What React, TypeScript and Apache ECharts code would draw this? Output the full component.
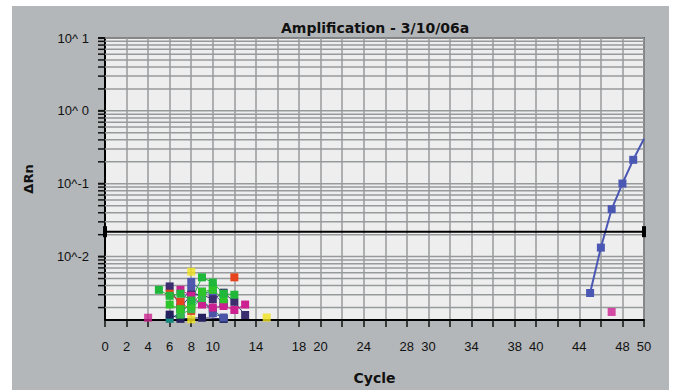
import React, { useEffect, useRef } from "react";
import * as echarts from "echarts";

// ---- data ----
const xShownLabels = [0, 2, 4, 6, 8, 10, 14, 18, 20, 24, 28, 30, 34, 38, 40, 44, 48, 50];
const yMin = 0.00135;
const yMax = 10;
const decadeValues = [0.01, 0.1, 1, 10];
const decadeLabels = ["10^-2", "10^-1", "10^ 0", "10^ 1"];
const minorMultipliers = [2, 3, 4, 5, 6, 7, 8, 9];
const minorDecades = [0.001, 0.01, 0.1, 1];
const thresholdValue = [0.022];

const mainBlue = [[45, 0.00317], [46, 0.0133], [47, 0.0448], [48, 0.1007], [49, 0.213], [50, 0.414]];
const green1 = [[5, 0.0035], [6, 0.0029], [7, 0.0031], [8, 0.0025], [9, 0.0052], [10, 0.0044], [11, 0.0031], [12, 0.0030]];
const green2 = [[6, 0.0022], [7, 0.0019], [8, 0.0021], [9, 0.0033], [10, 0.0035], [11, 0.0026]];
const green3 = [[7, 0.0016], [8, 0.0019], [9, 0.0027], [10, 0.0039]];
const red1 = [[6, 0.0031], [7, 0.0024], [8, 0.0018]];
const red2 = [[12, 0.0052]];
const magenta1 = [[7, 0.0035], [8, 0.0029], [9, 0.0022], [10, 0.0020], [11, 0.0021], [12, 0.00185], [13, 0.0022]];
const magentaSingles = [[4, 0.00145], [47, 0.00174]];
const purple1 = [[6, 0.0039], [7, 0.0020], [8, 0.0030], [9, 0.0030], [10, 0.0026], [11, 0.0032], [12, 0.0024], [13, 0.00158]];
const purple2 = [[11, 0.0023]];
const blue1 = [[8, 0.0045], [9, 0.0033], [10, 0.0031], [11, 0.0023]];
const blue2 = [[7, 0.0024], [8, 0.0036], [9, 0.0026], [10, 0.00167], [11, 0.00146]];
const yellowSingles = [[8, 0.0062], [15, 0.00146], [8, 0.00138]];
const teal1 = [[6, 0.0014], [7, 0.0017], [8, 0.0023], [9, 0.0025], [10, 0.0019], [11, 0.0014]];
const navy1 = [[6, 0.0016], [7, 0.0014], [9, 0.00145], [11, 0.0014]];

const gridColor = "#979a9b";

function lineSeries(data: number[][], color: string, width = 1) {
  return {
    type: "line",
    data,
    symbol: "rect",
    symbolSize: 8,
    showSymbol: true,
    lineStyle: { color, width },
    itemStyle: { color },
    z: 3,
  };
}

export default function App() {
  const ref = useRef<HTMLDivElement>(null);
  useEffect(() => {
    if (!ref.current) return;
    const chart = echarts.init(ref.current, undefined, { renderer: "svg" });

    const gridData: any[] = [];
    decadeValues.forEach((v, i) => gridData.push([0, v, 1, i]));
    minorDecades.forEach((d) =>
      minorMultipliers.forEach((m) => {
        const v = m * d;
        if (v > yMin && v < yMax) gridData.push([0, v, 0, -1]);
      })
    );

    const option: any = {
      animation: false,
      backgroundColor: "#b4b7b9",
      title: {
        text: "Amplification - 3/10/06a",
        left: 276,
        top: 16,
        textStyle: { fontFamily: "DejaVu Sans", fontWeight: "bold", fontSize: 14, color: "#111" },
      },
      graphic: [
        { type: "rect", shape: { x: 0, y: 0, width: 12, height: 390 }, style: { fill: "#fff" }, silent: true },
        { type: "rect", shape: { x: 0, y: 0, width: 676, height: 6 }, style: { fill: "#fff" }, silent: true },
        { type: "rect", shape: { x: 669, y: 0, width: 7, height: 390 }, style: { fill: "#fff" }, silent: true },
      ],
      grid: {
        left: 105,
        right: 32,
        top: 38,
        bottom: 70,
        show: true,
        backgroundColor: "#eeeeee",
        borderColor: "#222",
        borderWidth: 1.5,
      },
      xAxis: {
        type: "value",
        min: 0,
        max: 50,
        interval: 2,
        name: "Cycle",
        nameLocation: "middle",
        nameGap: 51,
        nameTextStyle: { fontFamily: "DejaVu Sans", fontWeight: "bold", fontSize: 14, color: "#111" },
        axisLine: { show: true, lineStyle: { color: "#000", width: 2 } },
        axisTick: { show: true, length: 7, lineStyle: { color: "#111", width: 1.5 } },
        axisLabel: {
          interval: 0,
          margin: 20,
          color: "#111",
          fontFamily: "Liberation Sans",
          fontSize: 13,
          formatter: (v: number) => (xShownLabels.indexOf(v) >= 0 ? String(v) : ""),
        },
        splitLine: { show: true, lineStyle: { color: gridColor, width: 1.5 } },
      },
      yAxis: {
        type: "log",
        logBase: 10,
        min: yMin,
        max: yMax,
        name: "ΔRn",
        nameLocation: "middle",
        nameGap: 70,
        nameRotate: 90,
        nameTextStyle: { fontFamily: "DejaVu Sans", fontWeight: "bold", fontSize: 13, color: "#111" },
        axisLine: { show: true, lineStyle: { color: "#000", width: 2 } },
        axisTick: { show: false },
        axisLabel: { show: false },
        splitLine: { show: false },
      },
      series: [
        {
          type: "custom",
          data: gridData,
          encode: { x: 0, y: 1 },
          z: 1,
          silent: true,
          renderItem: (params: any, api: any) => {
            const v = api.value(1);
            const major = api.value(2) === 1;
            const li = api.value(3);
            const a = api.coord([0, v]);
            const b = api.coord([50, v]);
            const children: any[] = [
              {
                type: "line",
                shape: { x1: a[0], y1: a[1], x2: b[0], y2: b[1] },
                style: { stroke: gridColor, lineWidth: 1.5 },
              },
              {
                type: "line",
                shape: { x1: a[0] - 7, y1: a[1], x2: a[0], y2: a[1] },
                style: { stroke: "#111", lineWidth: major ? 2 : 1.5 },
              },
            ];
            if (major && li >= 0) {
              children.push({
                type: "text",
                x: a[0] - 16,
                y: a[1],
                style: {
                  text: decadeLabels[li],
                  align: "right",
                  verticalAlign: "middle",
                  font: '13px "Liberation Sans"',
                  fill: "#111",
                },
              });
            }
            return { type: "group", children };
          },
        },
        {
          type: "custom",
          data: thresholdValue.map((v) => [0, v]),
          encode: { x: 0, y: 1 },
          z: 4,
          silent: true,
          renderItem: (params: any, api: any) => {
            const v = api.value(1);
            const a = api.coord([0, v]);
            const b = api.coord([50, v]);
            return {
              type: "group",
              children: [
                { type: "line", shape: { x1: a[0], y1: a[1], x2: b[0], y2: b[1] }, style: { stroke: "#000", lineWidth: 2 } },
                { type: "rect", shape: { x: a[0] - 2, y: a[1] - 5.5, width: 4, height: 11 }, style: { fill: "#000" } },
                { type: "rect", shape: { x: b[0] - 2, y: b[1] - 5.5, width: 4, height: 11 }, style: { fill: "#000" } },
              ],
            };
          },
        },
        lineSeries(teal1, "#168a7e"),
        lineSeries(navy1, "#25205e"),
        lineSeries(blue2, "#4c55a8"),
        lineSeries(blue1, "#5058ad"),
        lineSeries(purple1, "#3b2d6e"),
        lineSeries(purple2, "#3b2d6e"),
        lineSeries(magenta1, "#cc2090"),
        lineSeries(red1, "#e5441d"),
        lineSeries(red2, "#e5441d"),
        lineSeries(green3, "#34b84a"),
        lineSeries(green2, "#2ec52a"),
        lineSeries(green1, "#1fb83a"),
        {
          type: "scatter",
          data: magentaSingles,
          symbol: "rect",
          symbolSize: 8,
          itemStyle: { color: "#cc2090" },
          z: 3,
        },
        {
          type: "scatter",
          data: yellowSingles,
          symbol: "rect",
          symbolSize: 8,
          itemStyle: { color: "#f2e21c" },
          z: 3,
        },
        {
          type: "line",
          data: mainBlue.map((p, i) => (i === mainBlue.length - 1 ? { value: p, symbol: "none" } : p)),
          symbol: "rect",
          symbolSize: 8,
          lineStyle: { color: "#4a58b4", width: 2 },
          itemStyle: { color: "#4a58b4" },
          z: 3,
        },
      ],
    };
    chart.setOption(option);
    return () => chart.dispose();
  }, []);
  return (
    <div
      ref={ref}
      style={{ position: "fixed", left: 0, top: 0, width: 676, height: 390 }}
    />
  );
}
